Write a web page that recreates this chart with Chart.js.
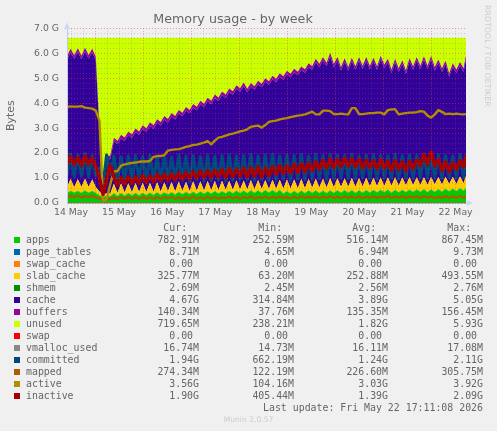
<!DOCTYPE html>
<html><head><meta charset="utf-8">
<style>
html,body{margin:0;padding:0;background:#f0f0f0;width:497px;height:431px;overflow:hidden}
#wrap{position:relative;width:497px;height:431px}
canvas{position:absolute;left:0;top:0}
.t{position:absolute;font:9.9px "DejaVu Sans Mono",monospace;color:#666;white-space:pre;line-height:12px}
.sw{position:absolute;width:6px;height:6px}
#rrd{position:absolute;left:481px;top:5px;writing-mode:vertical-rl;font:7.9px "DejaVu Sans",sans-serif;color:#ccc;white-space:pre;line-height:12px}
#munin{position:absolute;left:0;width:497px;top:415px;text-align:center;font:7.6px "DejaVu Sans",sans-serif;color:#ccc}
</style></head><body>
<div id="wrap"><canvas id="c" width="497" height="431"></canvas>
<div id="rrd">RRDTOOL / TOBI OETIKER</div><div id="munin">Munin 2.0.57</div></div>
<script src="https://cdn.jsdelivr.net/npm/chart.js@4"></script>
<script>
const chartTitle="Memory usage - by week";
const yLabel="Bytes";
const lastUpdate="Last update: Fri May 22 17:11:08 2026";
const footer="Munin 2.0.57";
const dayLabels={12:"14 May",36:"15 May",60:"16 May",84:"17 May",108:"18 May",132:"19 May",156:"20 May",180:"21 May",204:"22 May"};
const times=[
10,11.8,13.6,15.4,17.2,19,20.8,22.6,24.4,26.2,
28,29.8,31.6,33.4,35.2,37,38.8,40.6,42.4,44.2,
46,47.8,49.6,51.4,53.2,55,56.8,58.6,60.4,62.2,
64,65.8,67.6,69.4,71.2,73,74.8,76.6,78.4,80.2,
82,83.8,85.6,87.4,89.2,91,92.8,94.6,96.4,98.2,
100,101.8,103.6,105.4,107.2,109,110.8,112.6,114.4,116.2,
118,119.8,121.6,123.4,125.2,127,128.8,130.6,132.4,134.2,
136,137.8,139.6,141.4,143.2,145,146.8,148.6,150.4,152.2,
154,155.8,157.6,159.4,161.2,163,164.8,166.6,168.4,170.2,
172,173.8,175.6,177.4,179.2,181,182.8,184.6,186.4,188.2,
190,191.8,193.6,195.4,197.2,199,200.8,202.6,204.4,206.2,
208,209.2];
const apps=[
.40,.48,.41,.48,.40,.49,.41,.48,.40,.30,
.25,.28,.27,.38,.28,.39,.29,.39,.30,.40,
.30,.40,.31,.41,.31,.42,.32,.42,.33,.43,
.33,.44,.34,.44,.35,.45,.35,.46,.36,.46,
.37,.47,.37,.47,.38,.48,.38,.49,.39,.49,
.39,.50,.40,.50,.40,.51,.41,.51,.41,.52,
.37,.47,.37,.48,.38,.49,.39,.50,.40,.50,
.39,.49,.39,.50,.40,.50,.41,.51,.41,.51,
.40,.50,.41,.51,.41,.52,.42,.52,.43,.53,
.41,.52,.42,.52,.43,.53,.44,.54,.44,.55,
.43,.54,.44,.55,.45,.56,.46,.57,.47,.59,
.49,.59];
const pageTables=[
.007,.007,.007,.007,.007,.007,.007,.007,.007,.007,
.007,.007,.007,.007,.007,.007,.007,.007,.007,.007,
.007,.007,.007,.007,.007,.007,.007,.007,.007,.007,
.007,.007,.007,.007,.007,.007,.007,.007,.007,.007,
.007,.007,.007,.007,.007,.007,.007,.007,.007,.007,
.007,.007,.007,.007,.007,.007,.007,.007,.007,.007,
.007,.007,.007,.007,.007,.007,.007,.007,.007,.007,
.007,.007,.007,.007,.007,.007,.007,.007,.007,.007,
.007,.007,.007,.007,.007,.007,.007,.007,.007,.007,
.007,.007,.007,.007,.007,.007,.007,.007,.007,.007,
.007,.007,.007,.007,.007,.007,.007,.007,.007,.007,
.007,.007];
const swapCache=[
0,0,0,0,0,0,0,0,0,0,0,0,0,0,0,0,0,0,0,0,
0,0,0,0,0,0,0,0,0,0,0,0,0,0,0,0,0,0,0,0,
0,0,0,0,0,0,0,0,0,0,0,0,0,0,0,0,0,0,0,0,
0,0,0,0,0,0,0,0,0,0,0,0,0,0,0,0,0,0,0,0,
0,0,0,0,0,0,0,0,0,0,0,0,0,0,0,0,0,0,0,0,
0,0,0,0,0,0,0,0,0,0,0,0];
const slabCache=[
.22,.47,.21,.46,.23,.47,.22,.45,.22,.15,
.07,.10,.10,.38,.12,.38,.12,.39,.12,.39,
.13,.40,.12,.39,.13,.40,.12,.40,.13,.40,
.12,.41,.13,.40,.12,.41,.13,.40,.12,.41,
.13,.40,.13,.41,.14,.40,.13,.41,.14,.40,
.14,.41,.14,.41,.15,.40,.14,.41,.15,.40,
.19,.46,.20,.45,.20,.46,.19,.45,.20,.46,
.22,.47,.22,.48,.22,.48,.22,.47,.23,.48,
.24,.49,.24,.49,.25,.48,.24,.49,.24,.48,
.27,.50,.26,.49,.27,.49,.26,.48,.27,.47,
.28,.49,.29,.48,.28,.48,.29,.47,.28,.46,
.29,.49];
const shmem=[
.003,.003,.003,.003,.003,.003,.003,.003,.003,.003,
.003,.003,.003,.003,.003,.003,.003,.003,.003,.003,
.003,.003,.003,.003,.003,.003,.003,.003,.003,.003,
.003,.003,.003,.003,.003,.003,.003,.003,.003,.003,
.003,.003,.003,.003,.003,.003,.003,.003,.003,.003,
.003,.003,.003,.003,.003,.003,.003,.003,.003,.003,
.003,.003,.003,.003,.003,.003,.003,.003,.003,.003,
.003,.003,.003,.003,.003,.003,.003,.003,.003,.003,
.003,.003,.003,.003,.003,.003,.003,.003,.003,.003,
.003,.003,.003,.003,.003,.003,.003,.003,.003,.003,
.003,.003,.003,.003,.003,.003,.003,.003,.003,.003,
.003,.003];
const cache=[
5.11,5.08,5.15,5.11,5.12,5.11,5.15,5.10,5.08,2.40,
.03,1.32,1.38,1.70,1.94,1.81,2.06,1.93,2.17,2.04,
2.28,2.16,2.41,2.28,2.52,2.38,2.65,2.51,2.75,2.62,
2.88,2.73,2.99,2.86,3.11,2.96,3.23,3.09,3.35,3.20,
3.45,3.33,3.58,3.44,3.68,3.56,3.82,3.67,3.92,3.79,
3.90,3.75,3.99,3.84,4.08,3.94,4.18,4.03,4.27,4.13,
4.37,4.22,4.46,4.30,4.53,4.37,4.63,4.50,4.73,4.67,
4.82,4.74,4.86,4.89,4.81,4.72,4.67,4.67,4.66,4.68,
4.69,4.71,4.70,4.70,4.69,4.67,4.67,4.74,4.73,4.62,
4.52,4.61,4.57,4.56,4.47,4.63,4.63,4.68,4.64,4.71,
4.64,4.72,4.57,4.57,4.52,4.51,4.30,4.41,4.45,4.45,
4.47,4.69];
const buffers=[
.14,.14,.14,.14,.14,.14,.14,.14,.14,.14,
.14,.14,.14,.14,.14,.14,.14,.14,.14,.14,
.14,.14,.14,.14,.14,.14,.14,.14,.14,.14,
.14,.14,.14,.14,.14,.14,.14,.14,.14,.14,
.14,.14,.14,.14,.14,.14,.14,.14,.14,.14,
.14,.14,.14,.14,.14,.14,.14,.14,.14,.14,
.14,.14,.14,.14,.14,.14,.14,.14,.14,.14,
.14,.14,.14,.14,.14,.14,.14,.14,.14,.14,
.14,.14,.14,.14,.14,.14,.14,.14,.14,.14,
.14,.14,.14,.14,.14,.14,.14,.14,.14,.14,
.14,.14,.14,.14,.14,.14,.14,.14,.14,.14,
.14,.14];
const unused=[
.74,.44,.70,.42,.72,.40,.69,.44,.77,3.62,
6.12,4.77,4.72,4.01,4.13,3.89,4.00,3.76,3.88,3.64,
3.76,3.51,3.63,3.39,3.51,3.27,3.38,3.14,3.26,3.02,
3.14,2.89,3.01,2.77,2.89,2.65,2.76,2.52,2.64,2.40,
2.52,2.27,2.39,2.15,2.27,2.03,2.14,1.90,2.02,1.79,
2.04,1.81,1.94,1.72,1.84,1.62,1.74,1.52,1.64,1.42,
1.54,1.32,1.44,1.24,1.36,1.15,1.26,1.02,1.14,.84,
1.04,.77,1.00,.60,1.04,.77,1.17,.82,1.17,.80,
1.14,.77,1.12,.77,1.12,.80,1.14,.72,1.07,.84,
1.27,.84,1.22,.90,1.30,.82,1.14,.77,1.12,.74,
1.12,.72,1.17,.87,1.22,.92,1.42,1.02,1.27,.97,
1.22,.70];
const swap=[
0,0,0,0,0,0,0,0,0,0,0,0,0,0,0,0,0,0,0,0,
0,0,0,0,0,0,0,0,0,0,0,0,0,0,0,0,0,0,0,0,
0,0,0,0,0,0,0,0,0,0,0,0,0,0,0,0,0,0,0,0,
0,0,0,0,0,0,0,0,0,0,0,0,0,0,0,0,0,0,0,0,
0,0,0,0,0,0,0,0,0,0,0,0,0,0,0,0,0,0,0,0,
0,0,0,0,0,0,0,0,0,0,0,0];
const vmallocUsed=[
.016,.016,.016,.016,.016,.016,.016,.016,.016,.016,
.015,.015,.015,.015,.016,.016,.016,.016,.016,.016,
.016,.016,.016,.016,.016,.016,.016,.016,.016,.016,
.016,.016,.016,.016,.016,.016,.016,.016,.016,.016,
.016,.016,.016,.016,.016,.016,.016,.016,.016,.016,
.016,.016,.016,.016,.016,.016,.016,.016,.016,.016,
.016,.016,.016,.016,.016,.016,.016,.016,.016,.016,
.016,.016,.016,.016,.016,.016,.016,.016,.016,.016,
.016,.016,.016,.016,.016,.016,.016,.016,.016,.016,
.016,.016,.016,.016,.016,.016,.016,.016,.016,.016,
.016,.016,.016,.016,.016,.016,.016,.016,.016,.016,
.016,.016];
const committed=[
1.10,1.95,1.05,1.92,1.08,1.98,1.05,1.90,1.10,1.40,
.68,1.92,1.15,1.88,.88,1.85,.90,1.88,.86,1.90,
.92,1.86,.88,1.92,.90,1.87,.86,1.90,.92,1.85,
.88,1.92,.90,1.88,.86,1.90,.92,1.86,.88,1.92,
.90,1.87,.92,1.90,.88,1.92,.90,1.88,.95,1.90,
.92,1.95,.90,1.88,.94,1.92,.90,1.95,.92,1.88,
.95,1.92,.90,1.90,.96,1.94,.92,1.88,.95,1.96,
.98,1.90,.92,1.95,.96,1.92,1.00,1.90,.98,1.95,
.96,1.88,1.00,1.92,.98,1.94,.96,1.90,1.00,1.88,
.98,1.95,.96,1.90,1.00,1.92,.98,1.90,1.02,1.96,
1.00,1.92,1.00,1.94,.98,1.90,1.02,1.88,1.00,1.94,
1.02,1.94];
const mapped=[
.22,.29,.24,.30,.22,.27,.24,.29,.22,.18,
.12,.14,.17,.20,.16,.22,.18,.23,.17,.24,
.16,.23,.18,.22,.16,.24,.17,.23,.19,.25,
.17,.22,.16,.24,.18,.26,.17,.23,.16,.25,
.18,.24,.17,.22,.19,.26,.18,.24,.17,.25,
.19,.27,.18,.23,.20,.26,.18,.25,.19,.27,
.20,.24,.18,.26,.19,.28,.20,.25,.21,.27,
.19,.26,.21,.28,.20,.25,.19,.27,.21,.26,
.20,.28,.19,.25,.21,.27,.20,.26,.22,.29,
.20,.26,.21,.28,.19,.27,.22,.26,.20,.28,
.21,.27,.19,.25,.21,.28,.20,.26,.22,.28,
.21,.27];
const active=[
3.85,3.87,3.86,3.86,3.88,3.82,3.80,3.78,3.70,3.30,
.10,.15,.75,1.26,1.28,1.50,1.55,1.58,1.60,1.62,
1.65,1.66,1.66,1.68,1.85,1.88,1.88,1.92,2.10,2.13,
2.15,2.16,2.20,2.25,2.28,2.33,2.34,2.38,2.42,2.48,
2.35,2.50,2.62,2.65,2.70,2.75,2.78,2.82,2.87,2.90,
2.95,3.05,3.08,3.10,3.02,3.12,3.25,3.28,3.30,3.35,
3.38,3.40,3.44,3.47,3.50,3.52,3.55,3.60,3.66,3.55,
3.55,3.70,3.70,3.68,3.56,3.56,3.58,3.56,3.55,3.80,
3.80,3.56,3.56,3.58,3.60,3.60,3.62,3.62,3.55,3.72,
3.75,3.76,3.55,3.58,3.60,3.62,3.62,3.64,3.68,3.66,
3.50,3.42,3.55,3.72,3.65,3.56,3.58,3.56,3.58,3.56,
3.55,3.56];
const inactive=[
1.52,1.85,1.55,1.82,1.50,1.88,1.55,1.80,1.45,1.00,
.35,.95,1.50,1.05,.72,1.02,.75,1.05,.78,1.05,
.80,1.10,.82,1.08,.85,1.15,.88,1.15,.90,1.18,
.92,1.20,.95,1.22,.98,1.25,1.00,1.28,1.02,1.30,
1.02,1.32,1.05,1.35,1.02,1.38,1.05,1.35,1.08,1.40,
1.05,1.42,1.08,1.45,1.05,1.40,1.10,1.45,1.15,1.50,
1.18,1.48,1.20,1.55,1.22,1.58,1.25,1.60,1.30,1.65,
1.35,1.70,1.40,1.78,1.42,1.75,1.45,1.80,1.48,1.78,
1.45,1.75,1.40,1.72,1.42,1.70,1.38,1.75,1.40,1.68,
1.32,1.70,1.35,1.65,1.30,1.68,1.38,1.72,1.50,1.95,
1.55,2.05,1.50,1.75,1.30,1.65,1.25,1.60,1.35,1.70,
1.45,1.90];

const names=["apps","page_tables","swap_cache","slab_cache","shmem","cache","buffers","unused","swap","vmalloc_used","committed","mapped","active","inactive"];
const colors=["#00CC00","#0066B3","#FF8000","#FFCC00","#008F00","#330099","#990099","#CCFF00","#FF0000","#888888","#00487D","#B35A00","#B38F00","#A80000"];
const lineWidths=[0,0,0,0,0,0,0,0,0.4,0.4,3.2,2.4,2.4,3.6];
const curCol=["782.91M","8.71M","0.00 ","325.77M","2.69M","4.67G","140.34M","719.65M","0.00 ","16.74M","1.94G","274.34M","3.56G","1.90G"];
const minCol=["252.59M","4.65M","0.00 ","63.20M","2.45M","314.84M","37.76M","238.21M","0.00 ","14.73M","662.19M","122.19M","104.16M","405.44M"];
const avgCol=["516.14M","6.94M","0.00 ","252.88M","2.56M","3.89G","135.35M","1.82G","0.00 ","16.11M","1.24G","226.60M","3.03G","1.39G"];
const maxCol=["867.45M","9.73M","0.00 ","493.55M","2.76M","5.05G","156.45M","5.93G","0.00 ","17.08M","2.11G","305.75M","3.92G","2.09G"];
const series=[apps,pageTables,swapCache,slabCache,shmem,cache,buffers,unused,swap,vmallocUsed,committed,mapped,active,inactive];
const areaCount=8;

const datasets=series.map((vals,i)=>{
  const isArea=i<areaCount;
  return {
    label:names[i],
    data:vals.map((v,k)=>({x:times[k],y:v})),
    stack:isArea?"mem":names[i],
    order:isArea?20+i:20-i,
    borderColor:colors[i],
    backgroundColor:colors[i],
    borderWidth:lineWidths[i],
    borderJoinStyle:"round",
    fill:isArea?(i===0?"origin":"-1"):false,
    pointRadius:0,
    tension:0
  };
});
const arrows={id:"arrows",afterDraw(ch){
  const a=ch.chartArea,g=ch.ctx;
  g.save();g.fillStyle="#ccd6ff";
  g.beginPath();g.moveTo(a.left-3,a.top+1);g.lineTo(a.left+3,a.top+1);g.lineTo(a.left,a.top-6);g.fill();
  g.beginPath();g.moveTo(a.right+1,a.bottom-3);g.lineTo(a.right+1,a.bottom+3);g.lineTo(a.right+7,a.bottom);g.fill();
  g.restore();
}};
const tickFont={family:"'DejaVu Sans'",size:9.3};
const majorGrid="rgba(225,70,70,.5)",minorGrid="rgba(110,110,110,.3)";
new Chart(document.getElementById("c"),{
  type:"line",
  data:{datasets},
  plugins:[arrows],
  options:{
    responsive:false,animation:false,
    layout:{padding:{left:0,right:31,top:0,bottom:203}},
    plugins:{legend:{display:false},tooltip:{enabled:false},
      title:{display:true,text:chartTitle,color:"#666",font:{family:"'DejaVu Sans'",size:12.7,weight:"normal"},padding:{top:12,bottom:1}}},
    scales:{
      x:{type:"linear",min:10,max:209.2,
        afterFit(s){s.height=25},
        border:{display:true,color:"#bbb",dash:[1,2],z:1},
        ticks:{stepSize:6,includeBounds:false,autoSkip:false,maxRotation:0,padding:4,color:"#666",font:tickFont,
          callback:v=>dayLabels[v]||""},
        grid:{z:1,drawTicks:false,lineWidth:1,
          color:c=>(c.tick&&c.tick.value%24===0)?majorGrid:minorGrid}},
      y:{min:0,max:7,stacked:true,
        afterFit(s){s.width=67},
        border:{display:true,color:"#c4cbe8",dash:[1,2],z:1},
        title:{display:true,text:yLabel,color:"#666",font:{family:"'DejaVu Sans'",size:11},padding:{top:5,bottom:0}},
        ticks:{stepSize:0.2,autoSkip:false,padding:8,color:"#666",font:tickFont,
          callback:v=>Math.abs(v-Math.round(v))<1e-6?v.toFixed(1)+" G":""},
        grid:{z:1,drawTicks:false,lineWidth:1,
          color:c=>(c.tick&&Math.abs(c.tick.value-Math.round(c.tick.value))<1e-6)?majorGrid:minorGrid}}
    }
  }
});
const wrap=document.getElementById("wrap");
function put(txt,right,y,left){
  const d=document.createElement("div");d.className="t";d.textContent=txt;
  d.style.top=(y-6)+"px";
  if(left!==undefined){d.style.left=left+"px"}else{d.style.right=(497-right)+"px"}
  wrap.appendChild(d);
}
const rightEdges=[199,294,388,483];
["Cur:  ","Min:  ","Avg:  ","Max:  "].forEach((h,i)=>put(h,rightEdges[i],228));
names.forEach((n,i)=>{
  const y=240+12*i;
  const s=document.createElement("div");s.className="sw";s.style.left="14px";s.style.top=(y-3)+"px";s.style.background=colors[i];wrap.appendChild(s);
  put(n,0,y,26);
  [curCol,minCol,avgCol,maxCol].forEach((col,k)=>put(col[i],rightEdges[k],y));
});
put(lastUpdate,483,408);
document.getElementById("munin").textContent=footer;
</script>
</body></html>
